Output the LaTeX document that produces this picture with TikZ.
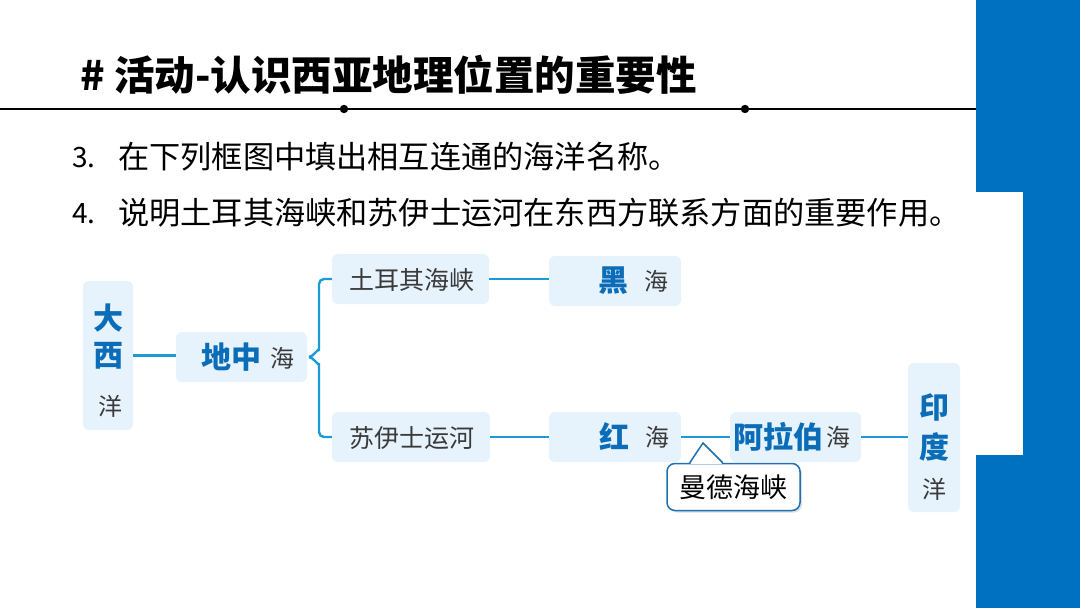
\documentclass[tikz,border=0pt]{standalone}
\usepackage{fontspec}
\setmainfont{Liberation Serif}
\newfontfamily\cjk{Noto Sans CJK SC}
\usetikzlibrary{shadows,calc}
\definecolor{band}{HTML}{0070C0}
\definecolor{boxfill}{HTML}{E6F2FC}
\definecolor{linec}{HTML}{1C9AD6}
\definecolor{bluetxt}{HTML}{0B6DB8}
\definecolor{graytxt}{HTML}{3A3A3A}
\definecolor{callblue}{HTML}{1F6FB2}
\tikzset{
  seabox/.style={fill=boxfill, rounded corners=6pt, inner sep=0pt, draw=none},
  conn/.style={draw=linec, line width=2.4pt},
  bluech/.style={text=bluetxt, font=\cjk\bfseries\fontsize{30}{30}\selectfont, inner sep=0pt},
  graych/.style={text=graytxt, font=\cjk\fontsize{24}{24}\selectfont, inner sep=0pt},
  graytxt/.style={text=graytxt, font=\cjk\fontsize{25}{25}\selectfont, inner sep=0pt},
  bodytxt/.style={anchor=base west, inner sep=0pt, font=\cjk\fontsize{31.2}{32}\selectfont},
  numtxt/.style={anchor=base west, inner sep=0pt, font=\cjk\fontsize{28}{30}\selectfont},
}
\begin{document}
\begin{tikzpicture}[x=1pt,y=-1pt]
\useasboundingbox (0,0) rectangle (1080,608);
% side band
\fill[band] (976,0) rectangle (1080,608);
\fill[white] (976,192) rectangle (1023,455);
% title
\node[anchor=west, inner sep=0pt, font=\cjk\bfseries\fontsize{40.5}{42}\selectfont] (title) at (80,75) {\# 活动-认识西亚地理位置的重要性};
\draw[line width=2.2pt] (0,109) -- (976,109);
\fill (344,109) circle (4.2);
\fill (745,109) circle (4.2);
% questions
\node[numtxt] (n3) at (72,167) {3.};
\node[bodytxt] (q3) at (118,168) {在下列框图中填出相互连通的海洋名称。};
\node[numtxt] (n4) at (72,223) {4.};
\node[bodytxt] (q4) at (118,224) {说明土耳其海峡和苏伊士运河在东西方联系方面的重要作用。};
% boxes
\node[seabox, minimum width=50pt, minimum height=149pt] (atl) at (108,355.5) {};
\node[seabox, minimum width=131pt, minimum height=50pt] (med) at (241.5,357) {};
\node[seabox, minimum width=157pt, minimum height=50pt] (tur) at (410.5,279) {};
\node[seabox, minimum width=158pt, minimum height=50pt] (suez) at (411,437) {};
\node[seabox, minimum width=132pt, minimum height=50pt] (blk) at (615,281) {};
\node[seabox, minimum width=132pt, minimum height=50pt] (red) at (615,437) {};
\node[seabox, minimum width=131pt, minimum height=50pt] (arab) at (795.5,437) {};
\node[seabox, minimum width=52pt, minimum height=149pt] (ind) at (934,437.5) {};
% box texts
\node[bluech] (atl1) at (108,318) {大};
\node[bluech] (atl2) at (108,356) {西};
\node[graych] (atl3) at (110,406) {洋};
\node[bluech] (med1) at (231,357) {地中};
\node[graych] (med2) at (282,358) {海};
\node[graytxt] (turt) at (412,280) {土耳其海峡};
\node[graytxt] (suezt) at (412,438) {苏伊士运河};
\node[bluech] (blk1) at (613,281) {黑};
\node[graych] (blk2) at (656,281) {海};
\node[bluech] (red1) at (614,437) {红};
\node[graych] (red2) at (657,437) {海};
\node[bluech] (arab1) at (778,437) {阿拉伯};
\node[graych] (arab2) at (838,437) {海};
\node[bluech] (ind1) at (934,407) {印};
\node[bluech] (ind2) at (934,447) {度};
\node[graych] (ind3) at (934,489) {洋};
% connectors
\coordinate (bx) at (319,357);
\coordinate (notch) at (309,357);
\draw[conn] (atl.east) -- (atl.east -| med.west);
\draw[conn, rounded corners=5pt] (tur.west) -- (tur.west -| bx) -- ($(bx)+(0,-6)$);
\draw[conn] ($(bx)+(0,-6)$) to[out=90,in=0] (notch);
\draw[conn] ($(bx)+(0,6)$) to[out=-90,in=0] (notch);
\draw[conn, rounded corners=5pt] ($(bx)+(0,6)$) -- (suez.west -| bx) -- (suez.west);
\draw[conn] (tur.east) -- (tur.east -| blk.west);
\draw[conn] (suez.east) -- (suez.east -| red.west);
\draw[conn] (red.east) -- (arab.west);
\draw[conn] (arab.east) -- (arab.east -| ind.west);
% callout
\node[draw=callblue, line width=1.5pt, fill=white, rounded corners=8pt,
      minimum width=133pt, minimum height=47pt, inner sep=0pt,
      font=\cjk\fontsize{27}{27}\selectfont,
      drop shadow={shadow xshift=2pt, shadow yshift=-2pt, opacity=0.25}] (mand) at (733.5,487) {曼德海峡};
\coordinate (tip) at (703,443);
\coordinate (pl) at ($(mand.north west)+(23.5,0)$);
\coordinate (pr) at ($(mand.north west)+(56.5,0)$);
\fill[white] ($(pl)+(0.8,1.2)$) -- (tip) -- ($(pr)+(-0.8,1.2)$) -- cycle;
\draw[callblue, line width=1.5pt, line join=miter] (pl) -- (tip) -- (pr);
\end{tikzpicture}
\end{document}
